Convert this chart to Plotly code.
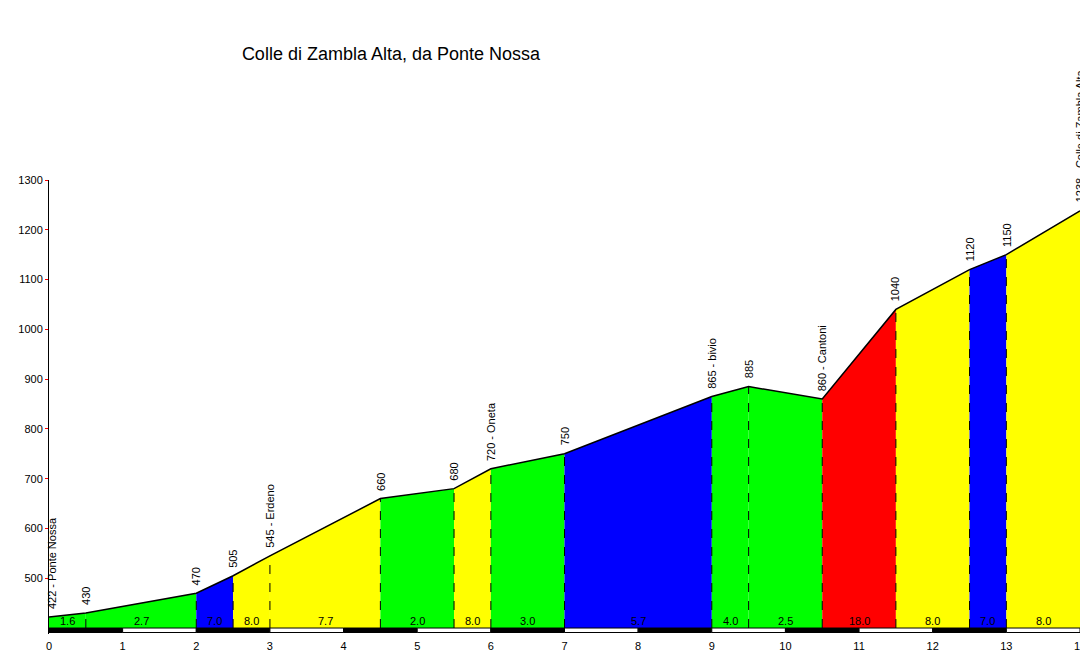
import plotly.graph_objects as go

# profile points (km, altitude) and labels
km = [0, 0.5, 2, 2.5, 3, 4.5, 5.5, 6, 7, 9, 9.5, 10.5, 11.5, 12.5, 13, 14]
alt = [422, 430, 470, 505, 545, 660, 680, 720, 750, 865, 885, 860, 1040, 1120, 1150, 1238]
names = ["422 - Ponte Nossa", "430", "470", "505", "545 - Erdeno", "660", "680", "720 - Oneta",
         "750", "865 - bivio", "885", "860 - Cantoni", "1040", "1120", "1150", "1238 - Colle di Zambla Alta"]
# gradient per segment
grades = ["1.6", "2.7", "7.0", "8.0", "7.7", "2.0", "8.0", "3.0", "5.7", "4.0", "2.5", "18.0", "8.0", "7.0", "8.0"]
seg_colors = ["#00ff00", "#00ff00", "#0000ff", "#ffff00", "#ffff00", "#00ff00", "#ffff00", "#00ff00",
              "#0000ff", "#00ff00", "#00ff00", "#ff0000", "#ffff00", "#0000ff", "#ffff00"]

BASE = 400
fig = go.Figure()

for i in range(len(grades)):
    x0, x1 = km[i], km[i + 1]
    fig.add_trace(go.Scatter(x=[x0, x0, x1, x1, x0], y=[BASE, alt[i], alt[i + 1], BASE, BASE],
                             fill="toself", fillcolor=seg_colors[i], mode="none", hoverinfo="skip"))
    fig.add_annotation(x=(x0 + x1) / 2, y=BASE, text=grades[i], showarrow=False, yanchor="bottom",
                       font=dict(size=11, color="black"), yshift=-1)

# profile outline
fig.add_trace(go.Scatter(x=km, y=alt, mode="lines", line=dict(color="black", width=1.5), hoverinfo="skip"))

# dashed separators
for k, a in zip(km[1:-1], alt[1:-1]):
    fig.add_shape(type="line", x0=k, x1=k, y0=BASE, y1=a, line=dict(color="black", width=1, dash="dash"))

# point labels
for k, a, n in zip(km, alt, names):
    fig.add_annotation(x=k, y=a, text=n, textangle=-90, showarrow=False, yanchor="bottom",
                       xanchor="center", yshift=6, xshift=3 if k == 0 else 0,
                       font=dict(size=11, color="black"))

# km bar
for k in range(14):
    fig.add_shape(type="rect", x0=k, x1=k + 1, y0=BASE - 9, y1=BASE,
                  fillcolor="black" if k % 2 == 0 else "white", line=dict(color="black", width=1))

fig.update_layout(
    width=1088, height=654, showlegend=False,
    plot_bgcolor="white", paper_bgcolor="white",
    margin=dict(l=32, r=10, t=172, b=24),
    font=dict(family="Arial, Liberation Sans", size=11, color="black"),
    title=dict(text="Colle di Zambla Alta, da Ponte Nossa", x=0.352, xanchor="center",
               y=0.93, yanchor="middle", font=dict(size=18, color="black")),
)
fig.update_xaxes(range=[0, 14], tickvals=list(range(15)), showgrid=False, zeroline=False,
                 showline=False, ticks="", ticklabelstandoff=4)
fig.update_yaxes(range=[388, 1300], tickvals=list(range(500, 1301, 100)), showgrid=False,
                 zeroline=False, showline=True, linecolor="black", ticks="outside",
                 tickcolor="red", ticklen=3)

fig.write_html("out.html")
